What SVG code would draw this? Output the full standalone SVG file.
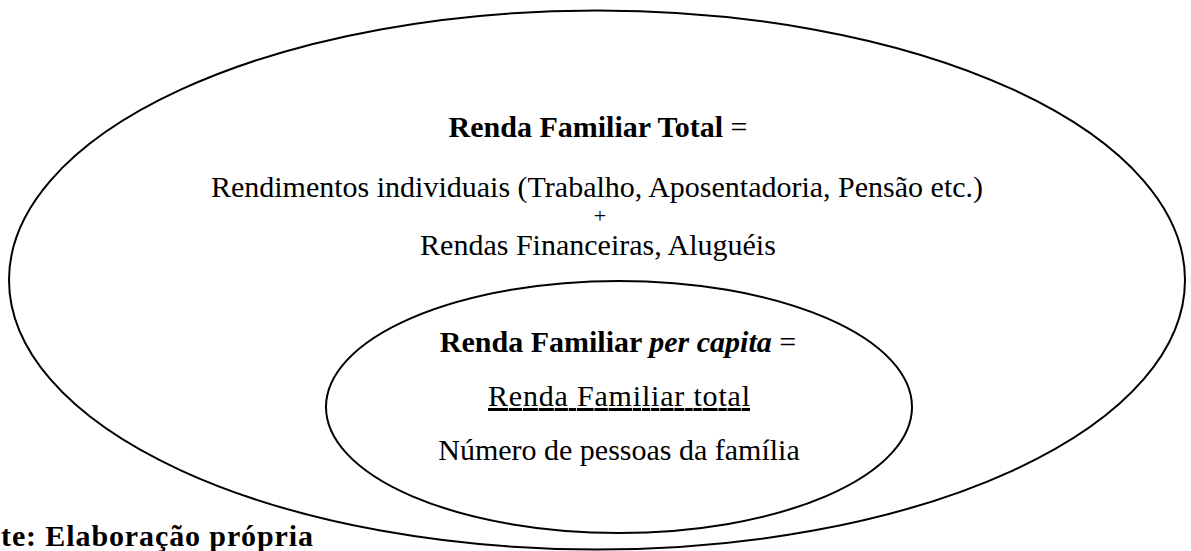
<svg xmlns="http://www.w3.org/2000/svg" width="1191" height="551" viewBox="0 0 1191 551">
  <style>
    .shape { fill: none; stroke: #000; stroke-width: 2; }
    .t { font-family: "Liberation Serif", "Times New Roman", serif; font-size: 30px; fill: #000; text-anchor: middle; }
    .b { font-weight: bold; }
    .bi { font-weight: bold; font-style: italic; }
  </style>
  <rect x="0" y="0" width="1191" height="551" fill="#fff"/>
  <g id="outer">
    <ellipse class="shape" cx="597" cy="280" rx="588" ry="269.5"/>
    <text class="t" x="598" y="137"><tspan class="b">Renda Familiar Total</tspan> =</text>
    <text class="t" x="597" y="197">Rendimentos individuais (Trabalho, Aposentadoria, Pensão etc.)</text>
    <text class="t" x="600" y="223" style="font-size:22px">+</text>
    <text class="t" x="598" y="255">Rendas Financeiras, Aluguéis</text>
  </g>
  <g id="inner">
    <ellipse class="shape" cx="619" cy="407" rx="293" ry="126"/>
    <text class="t" x="618" y="352"><tspan class="b">Renda Familiar </tspan><tspan class="bi">per capita</tspan> =</text>
    <text class="t" x="619" y="406" text-decoration="underline" textLength="262" lengthAdjust="spacing">Renda Familiar total</text>
    <text class="t" x="619" y="460">Número de pessoas da família</text>
  </g>
  <g id="source">
    <text class="t b" x="1" y="546" style="text-anchor:start" textLength="312" lengthAdjust="spacing">te: Elaboração própria</text>
  </g>
  <g id="connectors"></g>
</svg>
